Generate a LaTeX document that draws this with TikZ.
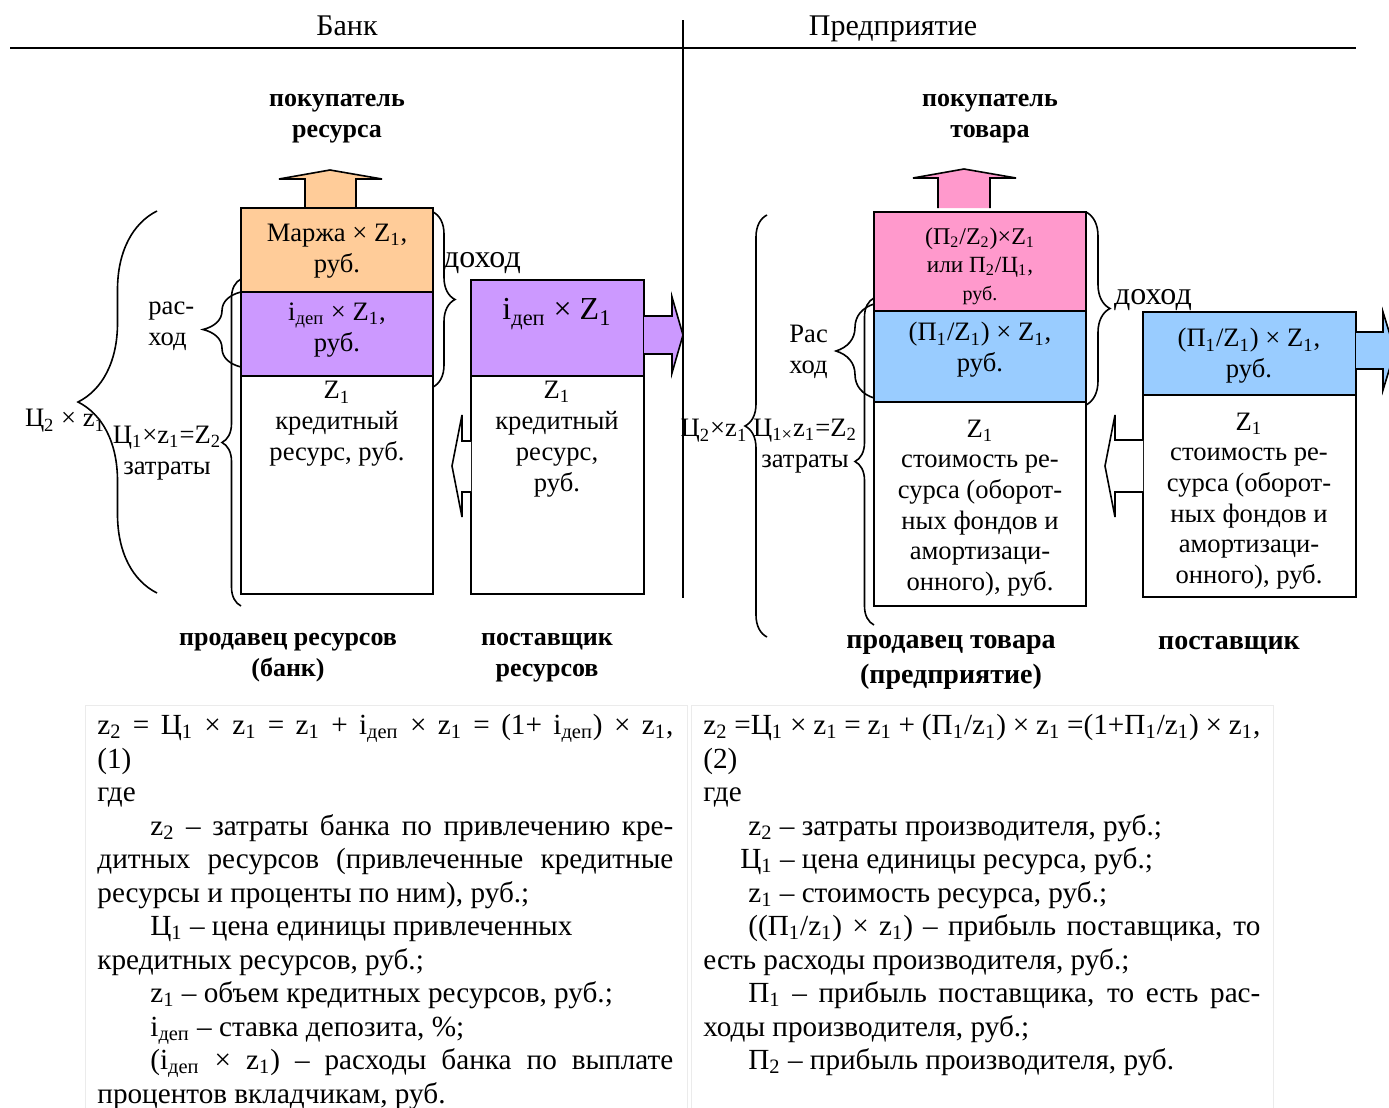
\documentclass[tikz,border=0pt]{standalone}
\usepackage{fontspec}
\setmainfont{Liberation Serif}
\usetikzlibrary{decorations.pathreplacing}

\definecolor{marzha}{HTML}{FFCC99}
\definecolor{depo}{HTML}{CC99FF}
\definecolor{pribyl}{HTML}{FF99CC}
\definecolor{postav}{HTML}{99CCFF}

\newcommand{\lo}[1]{\textsubscript{#1}}
\newcommand{\normsp}{\spaceskip=0pt\xspaceskip=0pt}
\newcommand{\jline}[2][288pt]{\makebox[#1][s]{\normsp#2}}

\tikzset{
  box/.style={draw, line width=1pt},
  hdr/.style={font=\fontsize{15}{18}\selectfont, inner sep=0pt, anchor=base},
  lbl/.style={font=\fontsize{13.3}{15.5}\selectfont, align=center, inner sep=0pt},
  boldlbl/.style={font=\fontsize{13}{15.5}\selectfont\bfseries, align=center, inner sep=0pt},
  brc/.style={decorate, decoration={brace, amplitude=#1}, line width=0.8pt},
  blockarrow/.style={draw, line width=0.8pt, line join=miter},
  txt/.style={font=\fontsize{14.6}{16.75}\selectfont, align=left, inner sep=0pt, anchor=north west},
}

\begin{document}
\begin{tikzpicture}[x=0.5pt,y=-0.5pt]
  \useasboundingbox (0,0) rectangle (1389,1108);

  % header
  \node[hdr] (bank) at (347,35) {Банк};
  \node[hdr] (firm) at (893,35) {Предприятие};
  \draw[line width=1.2pt] (10,48) -- (1356,48);
  \draw[line width=0.7pt] (683,20) -- (683,598);

  % bank
  \draw[blockarrow, fill=marzha] (305,207) -- (305,179) -- (279,179) -- (330,170)
    -- (382,179) -- (356,179) -- (356,207);
  \draw[box, fill=marzha] (241,208) rectangle (433,292);
  \draw[box, fill=depo] (241,292) rectangle (433,376);
  \draw[box] (241,376) rectangle (433,594);
  \draw[box, fill=depo] (471,280) rectangle (644,376);
  \draw[box] (471,376) rectangle (644,594);
  \draw[blockarrow, fill=depo] (644,316) -- (672,316) -- (672,297) -- (683,335)
    -- (672,373) -- (672,354) -- (644,354);
  \draw[blockarrow, fill=white] (471,441) -- (462,441) -- (462,415) -- (452,466)
    -- (462,517) -- (462,492) -- (471,492);

  \node[boldlbl] (buyres) at (337,119) {покупатель\\ресурса};
  \node[lbl] (marzh) at (337,251) {Маржа × Z\lo1,\\руб.};
  \node[lbl] (iddep) at (337,330) {i\lo{деп} × Z\lo1,\\руб.};
  \node[lbl] (kred) at (337,424) {Z\lo1\\кредитный\\ресурс, руб.};
  \node[lbl, font=\fontsize{16}{18}\selectfont] (supdep) at (557,314) {i\lo{деп} × Z\lo1};
  \node[lbl] (supkred) at (557,439) {Z\lo1\\кредитный\\ресурс,\\руб.};

  \draw[brc=39.5pt] (157,593) -- (157,211);
  \draw[brc=19pt] (241,367) -- (241,292);
  \draw[brc=9.5pt] (241,606) -- (241,279);
  \draw[brc=11pt] (433,212) -- (433,387);
  \node[lbl] (c2b) at (65,421) {Ц\lo2 × z\lo1};
  \node[lbl, align=left, anchor=west] (rashb) at (148,326) {рас-\\ход};
  \node[lbl] (zatrb) at (167,453) {Ц\lo1×z\lo1=Z\lo2\\затраты};
  \node[lbl, font=\fontsize{16}{18}\selectfont] (dohb) at (482,263) {доход};

  \node[boldlbl] (sellres) at (288,658) {продавец ресурсов\\(банк)};
  \node[boldlbl] (supres) at (547,658) {поставщик\\ресурсов};

  % enterprise
  \draw[blockarrow, fill=pribyl] (938,208) -- (938,178) -- (913,178) -- (964,169)
    -- (1016,178) -- (990,178) -- (990,208);
  \draw[box, fill=pribyl] (874,212) rectangle (1086,311);
  \draw[box, fill=postav] (874,311) rectangle (1086,402);
  \draw[box] (874,402) rectangle (1086,606);
  \draw[box, fill=postav] (1143,312) rectangle (1356,395);
  \draw[box] (1143,395) rectangle (1356,597);
  \draw[blockarrow, fill=postav] (1356,332) -- (1383,332) -- (1383,312) -- (1395,351)
    -- (1383,390) -- (1383,369) -- (1356,369);
  \draw[blockarrow, fill=white] (1143,440) -- (1115,440) -- (1115,415) -- (1105,466)
    -- (1115,517) -- (1115,492) -- (1143,492);

  \node[boldlbl] (buygood) at (990,119) {покупатель\\товара};
  \node[lbl, font=\fontsize{12}{14}\selectfont] (prof2) at (980,266)
    {(П\lo2/Z\lo2)×Z\lo1\\{\fontsize{11.6}{13}\selectfont или П\lo2/Ц\lo1,}\\{\fontsize{10}{12}\selectfont руб.}};
  \node[lbl] (prof1) at (980,350) {(П\lo1/Z\lo1) × Z\lo1,\\руб.};
  \node[lbl, font=\fontsize{13.3}{15.3}\selectfont] (cost) at (980,508)
    {Z\lo1\\стоимость ре-\\сурса (оборот-\\ных фондов и\\амортизаци-\\онного), руб.};
  \node[lbl] (supprof) at (1249,356) {(П\lo1/Z\lo1) × Z\lo1,\\руб.};
  \node[lbl, font=\fontsize{13.3}{15.3}\selectfont] (supcost) at (1249,501)
    {Z\lo1\\стоимость ре-\\сурса (оборот-\\ных фондов и\\амортизаци-\\онного), руб.};

  \draw[brc=11pt] (767,637) -- (767,215);
  \draw[brc=19pt] (874,398) -- (874,304);
  \draw[brc=9.5pt] (874,625) -- (874,298);
  \draw[brc=12pt] (1086,212) -- (1086,405);
  \node[lbl] (c2f) at (714,431) {Ц\lo2×z\lo1};
  \node[lbl, align=left, anchor=west] (rashf) at (789,352) {Рас\\ход};
  \node[lbl] (zatrf) at (805,446) {Ц\lo{1×}z\lo1=Z\lo2\\затраты};
  \node[lbl, font=\fontsize{16}{18}\selectfont] (dohf) at (1153,300) {доход};

  \node[boldlbl, font=\fontsize{14}{17.5}\selectfont\bfseries] (sellgood) at (951,662)
    {продавец товара\\(предприятие)};
  \node[boldlbl, font=\fontsize{14}{17.5}\selectfont\bfseries] (supgood) at (1229,645) {поставщик};

  % formulas
  \draw[black!8] (85,705) rectangle (687,1112);
  \draw[black!8] (691,705) rectangle (1273,1112);
  \node[txt, text width=288pt] (eqbank) at (97,714) {\normsp
    \jline{z\lo2 = Ц\lo1 × z\lo1 = z\lo1 + i\lo{деп} × z\lo1 = (1+ i\lo{деп}) × z\lo1,}\\
    (1)\\
    где\\
    \jline{\hspace*{26.5pt}z\lo2 – затраты банка по привлечению кре-}\\
    \jline{дитных ресурсов (привлеченные кредитные}\\
    ресурсы и проценты по ним), руб.;\\
    \hspace*{26.5pt}Ц\lo1 – цена единицы привлеченных\\
    кредитных ресурсов, руб.;\\
    \hspace*{26.5pt}z\lo1 – объем кредитных ресурсов, руб.;\\
    \hspace*{26.5pt}i\lo{деп} – ставка депозита, \%;\\
    \jline{\hspace*{26.5pt}(i\lo{деп} × z\lo1) – расходы банка по выплате}\\
    процентов вкладчикам, руб.};
  \node[txt, text width=278.5pt] (eqfirm) at (703,714) {\normsp
    \jline[278.5pt]{z\lo2 =Ц\lo1 × z\lo1 = z\lo1 + (П\lo1/z\lo1) × z\lo1 =(1+П\lo1/z\lo1) × z\lo1,}\\
    (2)\\
    где\\
    \hspace*{22.5pt}z\lo2 – затраты производителя, руб.;\\
    \hspace*{18.5pt}Ц\lo1 – цена единицы ресурса, руб.;\\
    \hspace*{22.5pt}z\lo1 – стоимость ресурса, руб.;\\
    \jline[278.5pt]{\hspace*{22.5pt}((П\lo1/z\lo1) × z\lo1) – прибыль поставщика, то}\\
    есть расходы производителя, руб.;\\
    \jline[278.5pt]{\hspace*{22.5pt}П\lo1 – прибыль поставщика, то есть рас-}\\
    ходы производителя, руб.;\\
    \hspace*{22.5pt}П\lo2 – прибыль производителя, руб.};
\end{tikzpicture}
\end{document}
